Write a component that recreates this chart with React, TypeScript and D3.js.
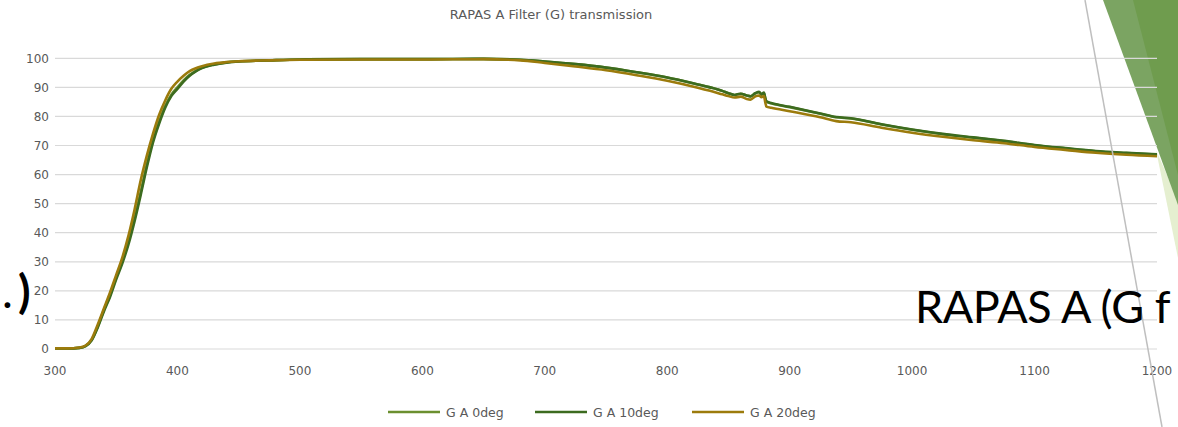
import React from "react";
import * as d3 from "d3";

const W = 1178;
const H = 427;

const title = "RAPAS A Filter (G) transmission";
const seriesNames = ["G A 0deg", "G A 10deg", "G A 20deg"];
const seriesColors = ["#6B8F2F", "#3C6B1F", "#9C7B0C"];
const xTicks = [300, 400, 500, 600, 700, 800, 900, 1000, 1100, 1200];
const yTicks = [0, 10, 20, 30, 40, 50, 60, 70, 80, 90, 100];

const wavelengths = [
  300, 310, 320, 325, 330, 335, 340, 345, 350, 355, 360, 365, 370, 375, 380, 385, 390, 395, 400, 405,
  410, 415, 420, 430, 440, 450, 475, 500, 550, 600, 650, 680, 700, 725, 750, 775, 800, 825, 835, 845,
  850, 855, 860, 865, 868, 872, 875, 877, 879, 880, 881, 885, 900, 925, 938, 950, 975, 1000, 1025, 1050,
  1075, 1100, 1125, 1150, 1175, 1200,
];

const gA0 = [
  0.2, 0.2, 0.4, 1.1, 3.2, 7.8, 13.5, 18.6, 24.6, 30.2, 37, 45, 54, 63.5, 71.8, 78.2, 83.6, 87.5, 90, 92.4,
  94.3, 95.7, 96.7, 97.9, 98.6, 98.9, 99.3, 99.6, 99.7, 99.7, 99.8, 99.5, 98.9, 98.0, 96.8, 95.2, 93.4, 91.0, 90.0, 88.8,
  88.0, 87.4, 87.8, 87.2, 86.9, 88.0, 88.3, 87.5, 88.0, 86.4, 85.1, 84.5, 83.2, 80.9, 79.7, 79.3, 77.2, 75.4, 73.9, 72.7,
  71.5, 70.1, 69.0, 68.0, 67.4, 66.9,
];

const gA10 = [
  0.2, 0.2, 0.4, 1.0, 3.0, 7.5, 13, 18, 24, 29.5, 36, 44, 53, 62.5, 71, 77.5, 83, 87, 89.5, 92,
  94, 95.5, 96.6, 97.8, 98.5, 98.9, 99.3, 99.6, 99.7, 99.7, 99.8, 99.5, 98.9, 98.0, 96.8, 95.2, 93.4, 91.0, 90.0, 88.8,
  88.0, 87.4, 87.8, 87.2, 86.9, 88.0, 88.5, 87.6, 88.2, 86.5, 85.2, 84.6, 83.3, 81.0, 79.8, 79.4, 77.3, 75.5, 74.0, 72.8,
  71.6, 70.2, 69.1, 68.1, 67.5, 67.0,
];

const gA20 = [
  0.2, 0.2, 0.5, 1.2, 3.5, 8.5, 14, 19.5, 25.5, 31.5, 39, 48, 58, 66.5, 74, 80.5, 85.5, 89.5, 92, 94,
  95.6, 96.6, 97.3, 98.2, 98.7, 99.0, 99.3, 99.5, 99.6, 99.6, 99.7, 99.3, 98.4, 97.2, 95.9, 94.2, 92.3, 89.9, 88.8, 87.6,
  87.0, 86.5, 86.8, 86.0, 85.8, 86.9, 87.2, 86.6, 87.0, 85.0, 83.4, 83.0, 81.8, 79.7, 78.4, 78.0, 76.1, 74.4, 73.0, 71.8,
  70.8, 69.5, 68.5, 67.5, 66.8, 66.3,
];

const seriesValues = [gA0, gA10, gA20];

const FONT = "'DejaVu Sans', Verdana, sans-serif";
const BIG = "Lato, 'Open Sans', sans-serif";
const LABEL = "#595959";

export default function App() {
  const x = d3.scaleLinear().domain([300, 1200]).range([55, 1157]);
  const y = d3.scaleLinear().domain([0, 100]).range([349, 58.3]);

  const line = d3
    .line<number>()
    .x((_, i) => x(wavelengths[i]))
    .y((d) => y(d))
    .curve(d3.curveMonotoneX);

  const legendX = [388, 535, 692];

  return (
    <svg
      width={W}
      height={H}
      style={{ position: "absolute", left: 0, top: 0, display: "block" }}
      xmlns="http://www.w3.org/2000/svg"
    >
      <rect x={0} y={0} width={W} height={H} fill="#ffffff" />
      {/* slide decoration */}
      <polygon points="1156,150 1178,200 1178,258" fill="#E5EFD0" />
      <polygon points="1103,0 1178,0 1178,205" fill="#7BA462" />
      <polygon points="1133,0 1178,0 1178,175" fill="#6F9C4E" />

      {/* gridlines */}
      {yTicks.map((t) => (
        <line key={t} x1={55} x2={1157} y1={y(t)} y2={y(t)} stroke="#D9D9D9" strokeWidth={1.2} />
      ))}

      {/* y labels */}
      {yTicks.map((t) => (
        <text
          key={t}
          x={49}
          y={y(t)}
          dy="0.35em"
          textAnchor="end"
          fontFamily={FONT}
          fontSize={12}
          fill={LABEL}
        >
          {t}
        </text>
      ))}

      {/* x labels */}
      {xTicks.map((t) => (
        <text
          key={t}
          x={x(t)}
          y={375}
          textAnchor="middle"
          fontFamily={FONT}
          fontSize={12}
          fill={LABEL}
        >
          {t}
        </text>
      ))}

      {/* series */}
      {seriesValues.map((vals, i) => (
        <path
          key={i}
          d={line(vals) || ""}
          fill="none"
          stroke={seriesColors[i]}
          strokeWidth={2.6}
          strokeLinejoin="round"
        />
      ))}

      {/* title */}
      <text x={551} y={19} textAnchor="middle" fontFamily={FONT} fontSize={13} fill={LABEL}>
        {title}
      </text>

      {/* legend */}
      {seriesNames.map((n, i) => (
        <g key={n}>
          <line
            x1={legendX[i]}
            x2={legendX[i] + 52}
            y1={412}
            y2={412}
            stroke={seriesColors[i]}
            strokeWidth={2.6}
          />
          <text x={legendX[i] + 58} y={416.5} fontFamily={FONT} fontSize={12.5} fill={LABEL}>
            {n}
          </text>
        </g>
      ))}

      {/* slide overlay elements */}
      <line x1={1085} y1={0} x2={1162} y2={427} stroke="#BFBFBF" strokeWidth={1.5} />
      <text x={915} y={323} fontFamily={BIG} fontSize={45} letterSpacing={-0.4} fill="#000000">
        RAPAS A (G f
      </text>
      <text x={2} y={308} fontFamily={BIG} fontSize={46} fill="#000000">
        .
      </text>
      <text x={18} y={308} fontFamily={BIG} fontSize={46} fontWeight={700} fill="#000000">
        )
      </text>
    </svg>
  );
}
